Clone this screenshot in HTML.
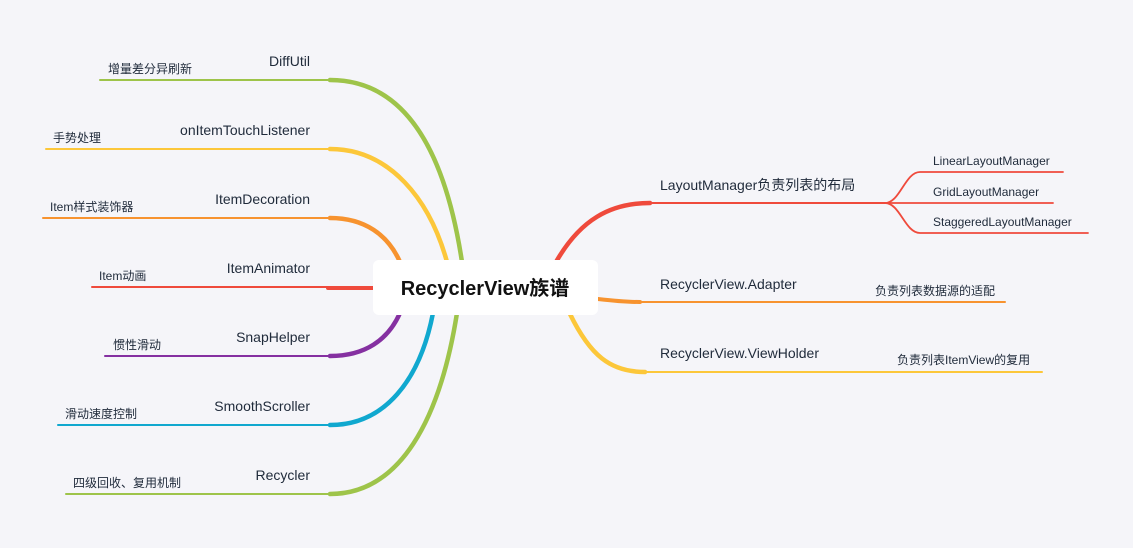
<!DOCTYPE html>
<html><head><meta charset="utf-8"><style>
html,body{margin:0;padding:0;background:#f5f5f9;}
svg{display:block}
text{font-family:"Liberation Sans","Noto Sans CJK SC",sans-serif;fill:#1f2a3a}
.m{font-size:14px}
.s{font-size:12px}
</style></head><body>
<svg width="1133" height="548" viewBox="0 0 1133 548" xmlns="http://www.w3.org/2000/svg">
<rect width="1133" height="548" fill="#f5f5f9"/>
<g fill="none" stroke-linecap="round">
<!-- left -->
<path d="M100,80 H330" stroke="#9ec44a" stroke-width="2"/>
<path d="M330,80 C405,80 445,150 462,262" stroke="#9ec44a" stroke-width="4.5"/>
<path d="M46,149 H330" stroke="#fcc73a" stroke-width="2"/>
<path d="M330,149 C390,149 430,200 447,262" stroke="#fcc73a" stroke-width="4.5"/>
<path d="M43,218 H330" stroke="#f7932f" stroke-width="2"/>
<path d="M330,218 C365,218 388,235 400,262" stroke="#f7932f" stroke-width="4.5"/>
<path d="M92,287 H330" stroke="#ef4a3c" stroke-width="2"/>
<path d="M328,288 H375" stroke="#ef4a3c" stroke-width="4"/>
<path d="M105,356 H330" stroke="#8530a1" stroke-width="2"/>
<path d="M330,356 C365,356 388,340 400,313" stroke="#8530a1" stroke-width="4.5"/>
<path d="M58,425 H330" stroke="#10a8cf" stroke-width="2"/>
<path d="M330,425 C385,425 420,380 433,313" stroke="#10a8cf" stroke-width="4.5"/>
<path d="M66,494 H330" stroke="#9ec44a" stroke-width="2"/>
<path d="M330,494 C400,494 440,420 457,313" stroke="#9ec44a" stroke-width="4.5"/>
<!-- right -->
<path d="M556,262 C580,220 610,203 650,203" stroke="#ef4a3c" stroke-width="4.5"/>
<path d="M650,203 H885" stroke="#ef4a3c" stroke-width="2"/>
<path d="M885,203 C900,203 905,172 920,172 H1063" stroke="#ef4a3c" stroke-width="1.8"/>
<path d="M885,203 H1053" stroke="#ef4a3c" stroke-width="1.8"/>
<path d="M885,203 C900,203 905,233 920,233 H1088" stroke="#ef4a3c" stroke-width="1.8"/>
<path d="M598,299 C615,301 625,302 640,302" stroke="#f7932f" stroke-width="4"/>
<path d="M640,302 H1005" stroke="#f7932f" stroke-width="2"/>
<path d="M570,314 C590,355 610,372 645,372" stroke="#fcc73a" stroke-width="4.5"/>
<path d="M645,372 H1042" stroke="#fcc73a" stroke-width="2"/>
</g>
<rect x="373" y="260" width="225" height="55" rx="6" fill="#ffffff"/>
<text x="485" y="295" text-anchor="middle" style="font-size:20px;font-weight:bold;fill:#111">RecyclerView族谱</text>
<text class="m" x="310" y="66" text-anchor="end">DiffUtil</text>
<text class="s" x="108" y="73">增量差分异刷新</text>
<text class="m" x="310" y="135" text-anchor="end">onItemTouchListener</text>
<text class="s" x="53" y="142">手势处理</text>
<text class="m" x="310" y="204" text-anchor="end">ItemDecoration</text>
<text class="s" x="50" y="211">Item样式装饰器</text>
<text class="m" x="310" y="273" text-anchor="end">ItemAnimator</text>
<text class="s" x="99" y="280">Item动画</text>
<text class="m" x="310" y="342" text-anchor="end">SnapHelper</text>
<text class="s" x="113" y="349">惯性滑动</text>
<text class="m" x="310" y="411" text-anchor="end">SmoothScroller</text>
<text class="s" x="65" y="418">滑动速度控制</text>
<text class="m" x="310" y="480" text-anchor="end">Recycler</text>
<text class="s" x="73" y="487">四级回收、复用机制</text>
<text class="m" x="660" y="190">LayoutManager负责列表的布局</text>
<text class="s" x="933" y="165">LinearLayoutManager</text>
<text class="s" x="933" y="196">GridLayoutManager</text>
<text class="s" x="933" y="226">StaggeredLayoutManager</text>
<text class="m" x="660" y="289">RecyclerView.Adapter</text>
<text class="s" x="875" y="295">负责列表数据源的适配</text>
<text class="m" x="660" y="358">RecyclerView.ViewHolder</text>
<text class="s" x="897" y="364">负责列表ItemView的复用</text>
</svg>
</body></html>
